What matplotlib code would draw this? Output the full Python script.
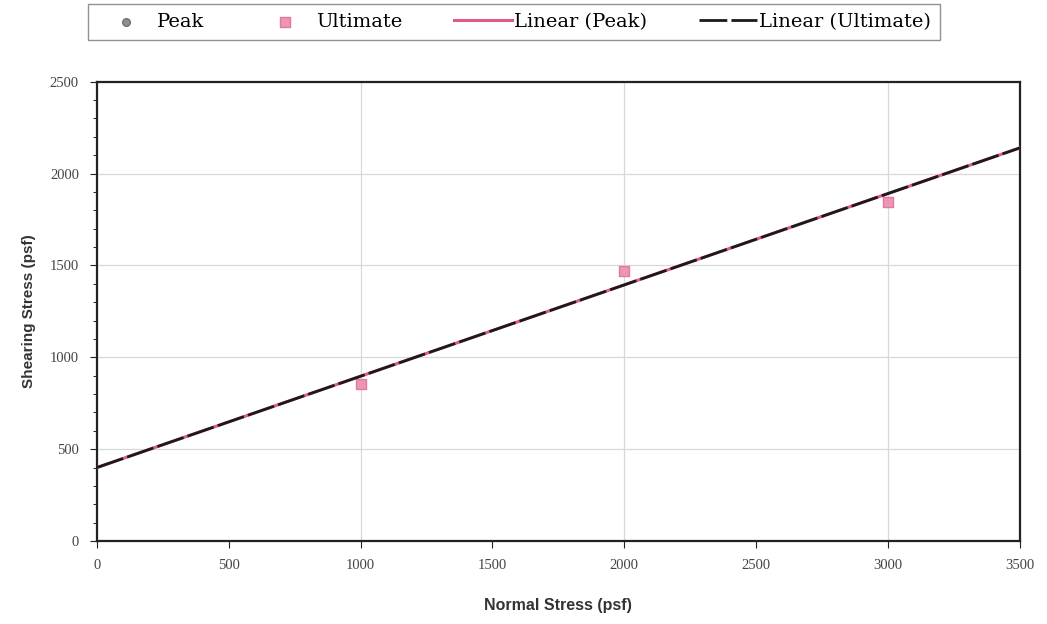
import matplotlib
matplotlib.use('Agg')
import matplotlib.pyplot as plt
import numpy as np
from matplotlib.ticker import MultipleLocator

# data
normal_stress = [1000, 2000, 3000]
peak_stress = [855, 1470, 1846]
ultimate_stress = [855, 1470, 1846]
fit_x = [0, 3500]
fit_peak = [400, 2140]
fit_ultimate = [400, 2140]

fig = plt.figure(figsize=(10.47, 6.24), dpi=100, facecolor="white")
ax = fig.add_axes([0.0926, 0.133, 0.8815, 0.736])

ax.scatter(normal_stress, peak_stress, marker="o", s=30, color="#909090",
           edgecolor="#707070", zorder=3, label="Peak")
ax.scatter(normal_stress, ultimate_stress, marker="s", s=45, color="#ec95b5",
           edgecolor="#e07aa0", zorder=4, label="Ultimate")
ax.plot(fit_x, fit_peak, color="#e05a85", lw=2.2, zorder=5, label="Linear (Peak)")
ax.plot(fit_x, fit_ultimate, color="#1a1a1a", lw=2.0, ls=(0, (10, 1.5)), zorder=6,
        label="Linear (Ultimate)")

ax.set_xlim(0, 3500)
ax.set_ylim(0, 2500)
ax.xaxis.set_major_locator(MultipleLocator(500))
ax.yaxis.set_major_locator(MultipleLocator(500))
ax.yaxis.set_minor_locator(MultipleLocator(100))
ax.grid(False)
for v in [1000, 2000, 3000]:
    ax.axvline(v, color="#d8d8d8", lw=0.9, zorder=1)
for v in [500, 1000, 1500, 2000]:
    ax.axhline(v, color="#d8d8d8", lw=0.9, zorder=1)

for s in ax.spines.values():
    s.set_linewidth(1.6)
    s.set_color("#222222")
ax.tick_params(axis="both", which="major", length=5, direction="out",
               labelsize=10.5, colors="#222222", pad=8)
ax.tick_params(axis="y", which="minor", length=3, direction="out")
for lab in ax.get_xticklabels() + ax.get_yticklabels():
    lab.set_family("Liberation Serif")
    lab.set_color("#444444")

ax.set_xlabel("Normal Stress (psf)", fontsize=11.5, family="Liberation Sans",
              fontweight="bold", color="#333333", labelpad=19)
ax.set_ylabel("Shearing Stress (psf)", fontsize=11, family="Liberation Sans",
              fontweight="bold", color="#333333", labelpad=10)

leg = fig.legend(loc="upper left", bbox_to_anchor=(0.084, 0.993), ncol=4,
                 frameon=True, fancybox=False, edgecolor="#777777",
                 prop={"family": "DejaVu Serif", "size": 14},
                 handlelength=3.0, columnspacing=2.65, handletextpad=0.1,
                 borderpad=0.45, borderaxespad=0)
leg.get_frame().set_linewidth(1.0)

plt.savefig("out.png", dpi=100)
plt.close("all")
